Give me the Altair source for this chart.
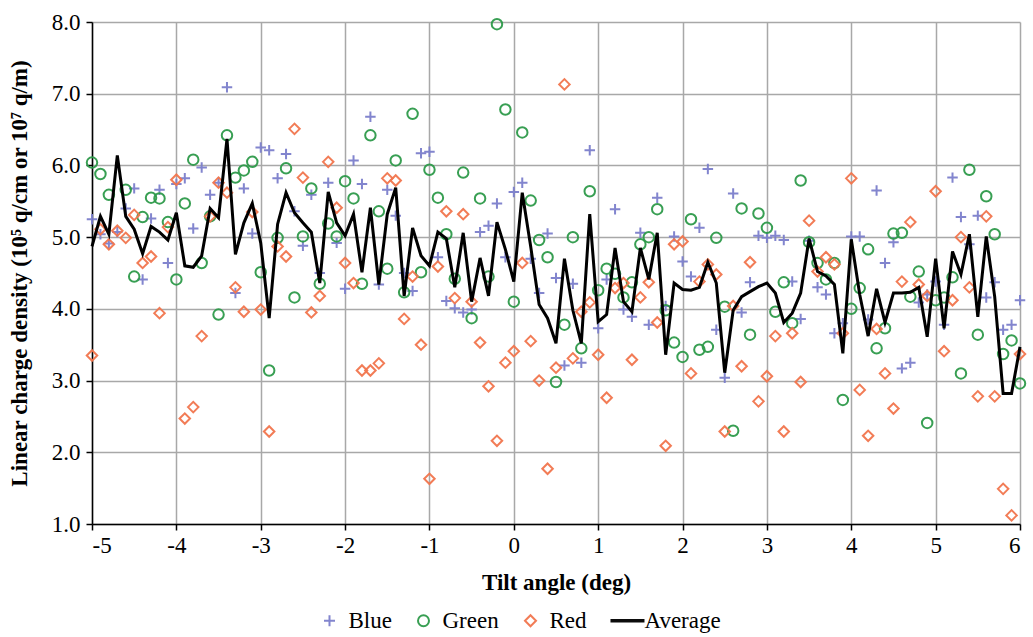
import altair as alt
import pandas as pd

tilt = [round(-5 + 0.1 * i, 1) for i in range(111)]

blue = [5.25, 5.04, 4.91, 5.07, 5.40, 5.68, 4.41, 5.26, 5.66, 4.64, 5.74, 5.82, 5.12, 5.97, 5.59,
        5.76, 7.09, 4.22, 5.68, 5.05, 6.25, 6.21, 5.82, 6.16, 5.36, 4.88, 5.59, 4.50, 5.76,
        4.92, 4.28, 6.07, 5.74, 6.68, 4.34, 5.66, 5.30, 4.50, 4.25, 6.17, 6.19, 4.72, 4.11, 4.01,
        3.95, 3.99, 5.07, 5.16, 5.47, 4.72, 5.63, 5.76, 4.70, 4.22, 5.05, 4.43, 3.21, 4.35,
        3.25, 6.21, 3.73, 4.41, 5.39, 3.99, 3.89, 5.06, 3.78, 5.55, 4.04, 5.01, 4.66, 4.45,
        5.13, 5.95, 3.71, 3.04, 5.61, 3.95, 4.37, 5.02, 4.99, 5.02, 4.96, 4.38, 3.86, 4.95,
        4.30, 4.20, 3.66, 3.80, 5.01, 5.01, 3.85, 5.65, 4.64, 4.93, 3.17, 3.25, 4.09, 4.20,
        4.38, 3.78, 5.83, 5.28, 4.90, 5.30, 4.16, 4.37, 3.71, 3.78, 4.12]

green = [6.04, 5.88, 5.59, None, 5.66, 4.45, 5.28, 5.55, 5.54, 5.21, 4.41, 5.47, 6.08, 4.64, 5.29,
         3.92, 6.42, 5.83, 5.93, 6.05, 4.51, 3.14, 4.99, 5.96, 4.16, 5.01, 5.68, 4.35, 5.19,
         5.01, 5.78, 5.54, 4.35, 6.42, 5.36, 4.56, 6.07, 4.23, 6.72, 4.51, 5.94, 5.55, 5.04, 4.42,
         5.90, 3.87, 5.54, 4.45, 7.97, 6.78, 4.10, 6.46, 5.51, 4.96, 4.72, 2.98, 3.78, 5.00,
         3.45, 5.64, 4.26, 4.56, 4.49, 4.16, 4.37, 4.90, 5.00, 5.39, 3.98, 3.53, 3.33, 5.25,
         3.43, 3.47, 4.99, 4.03, 2.30, 5.40, 3.64, 5.33, 5.13, 3.96, 4.37, 3.80, 5.79, 4.93,
         4.64, 4.41, 4.64, 2.73, 4.00, 4.29, 4.83, 3.45, 3.73, 5.05, 5.06, 4.17, 4.52, 2.41,
         4.12, 4.16, 4.44, 3.10, 5.94, 3.64, 5.57, 5.04, 3.37, 3.56, 2.96]

red = [3.35, 5.11, 4.90, 5.09, 4.99, 5.31, 4.64, 4.73, 3.94, 5.14, 5.80, 2.47, 2.63, 3.62, 5.29,
       5.76, 5.62, 4.30, 3.96, 5.35, 3.99, 2.29, 4.87, 4.73, 6.51, 5.83, 3.95, 4.18, 6.05,
       5.41, 4.64, 4.36, 3.14, 3.14, 3.24, 5.82, 5.79, 3.86, 4.45, 3.50, 1.63, 4.59, 5.36, 4.15,
       5.32, 4.10, 3.53, 2.92, 2.16, 3.25, 3.41, 4.64, 3.55, 3.00, 1.77, 3.18, 7.13, 3.31,
       3.96, 4.09, 3.36, 2.76, 4.29, 4.36, 3.29, 4.16, 4.37, 3.81, 2.09, 4.90, 4.94, 3.10,
       4.38, 4.62, 4.48, 2.29, 4.04, 3.20, 4.65, 2.71, 3.06, 3.62, 2.29, 3.66, 2.98, 5.23,
       4.52, 4.72, 4.62, 3.66, 5.82, 2.87, 2.23, 3.72, 3.10, 2.61, 4.38, 5.21, 4.34, 4.18,
       5.64, 3.41, 4.12, 5.00, 4.30, 2.78, 5.29, 2.78, 1.49, 1.12, 3.37]

average = [4.87, 5.29, 5.04, 6.14, 5.29, 5.11, 4.77, 5.15, 5.07, 4.96, 5.34, 4.60, 4.58, 4.74, 5.40,
           5.27, 6.37, 4.76, 5.20, 5.47, 4.92, 3.87, 5.18, 5.62, 5.34, 5.20, 5.07, 4.36, 5.63,
           5.20, 5.02, 5.32, 4.51, 5.41, 4.34, 5.32, 5.69, 4.18, 5.13, 4.74, 4.60, 5.07, 4.98, 4.30,
           5.06, 4.10, 4.71, 4.18, 5.21, 4.83, 4.38, 5.62, 4.87, 4.06, 3.87, 3.52, 4.70, 3.98,
           3.52, 5.32, 3.82, 3.92, 4.85, 4.10, 3.96, 4.85, 4.41, 5.06, 3.36, 4.36, 4.27, 4.26,
           4.30, 4.65, 4.36, 3.11, 3.98, 4.17, 4.24, 4.31, 4.36, 4.22, 3.81, 3.94, 4.22, 4.98,
           4.52, 4.46, 4.34, 3.38, 4.97, 4.20, 3.62, 4.28, 3.81, 4.22, 4.22, 4.23, 4.30, 3.61,
           4.70, 3.73, 4.80, 4.48, 5.04, 3.89, 5.01, 4.17, 2.82, 2.82, 3.47]

series_names = ["Blue", "Green", "Red", "Average"]
series_colors = ["#7c7fcc", "#2e9a4a", "#f2764e", "#000000"]
plus_path = "M-1,0H1M0,-1V1"
avg_path = "M-2.55,-0.12H3.27V0.12H-2.55Z"
series_shapes = [plus_path, "circle", "diamond", avg_path]

rows = []
for name, vals in (("Blue", blue), ("Green", green), ("Red", red)):
    for x, v in zip(tilt, vals):
        if v is not None:
            rows.append({"tilt": x, "value": v, "series": name})
pts = pd.DataFrame(rows)
avg_df = pd.DataFrame({"tilt": tilt, "value": average, "series": "Average"})

FONT = "Liberation Serif"
FS = 23

xenc = alt.X("tilt:Q", scale=alt.Scale(domain=[-5, 6], nice=False),
             axis=alt.Axis(values=list(range(-5, 7)), labelExpr="datum.value + ''",
                           title="Tilt angle (deg)", grid=True, tickSize=6,
                           labelPadding=4, titlePadding=14))
yenc = alt.Y("value:Q", scale=alt.Scale(domain=[1, 8], nice=False, zero=False),
             axis=alt.Axis(values=[1, 2, 3, 4, 5, 6, 7, 8], format=".1f",
                           title="Linear charge density (10\u2075 q/cm or 10\u2077 q/m)",
                           grid=True, tickSize=6, labelPadding=6, titlePadding=20))

color_scale = alt.Scale(domain=series_names, range=series_colors)
shape_scale = alt.Scale(domain=series_names, range=series_shapes)

legend = alt.Legend(title=None, orient="none", legendX=226, legendY=587,
                    direction="horizontal", columns=4, labelFont=FONT,
                    labelFontSize=FS, labelColor="black", symbolSize=121,
                    symbolStrokeWidth=2, labelOffset=7.5, columnPadding=20,
                    padding=0)

points = alt.Chart(pts).mark_point(filled=False, size=110, strokeWidth=2, opacity=0.95).encode(
    x=xenc, y=yenc,
    color=alt.Color("series:N", scale=color_scale, legend=legend),
    shape=alt.Shape("series:N", scale=shape_scale, legend=legend),
)

line = alt.Chart(avg_df).mark_line(strokeWidth=3, color="black").encode(
    x=xenc, y=yenc,
    color=alt.Color("series:N", scale=color_scale, legend=None),
)

chart = alt.layer(points, line).properties(
    width=928, height=502,
    autosize=alt.AutoSizeParams(type="none"),
    padding={"left": 92, "top": 22, "right": 13, "bottom": 113},
).configure(background="white").configure_view(stroke=None).configure_axis(
    domainColor="black", domainWidth=1.5, tickColor="black", tickWidth=1.5,
    gridColor="#a8a8a8", gridWidth=1.5,
    labelFont=FONT, labelFontSize=FS, labelColor="black",
    titleFont=FONT, titleFontSize=FS, titleFontWeight="bold", titleColor="black",
)

chart.save("out.html", embed_options={"renderer": "svg", "actions": False})
